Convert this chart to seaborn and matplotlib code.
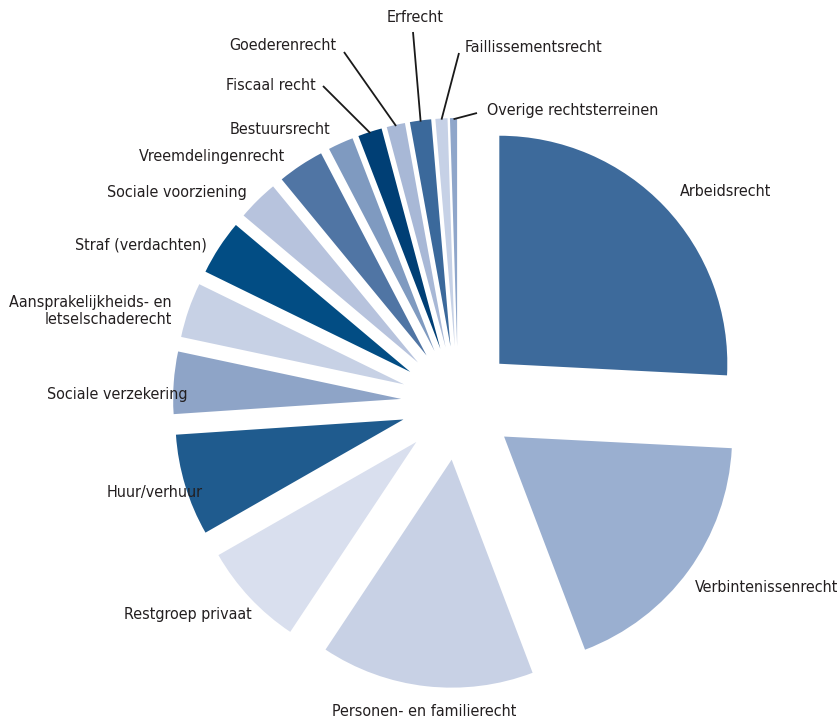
import numpy as np
import matplotlib
matplotlib.use("Agg")
import matplotlib.pyplot as plt
from matplotlib import font_manager as fm
import seaborn as sns

# Share of cases per legal area (%), clockwise from the top
categories = [
    "Arbeidsrecht", "Verbintenissenrecht", "Personen- en familierecht",
    "Restgroep privaat", "Huur/verhuur", "Sociale verzekering",
    "Aansprakelijkheids- en\nletselschaderecht", "Straf (verdachten)",
    "Sociale voorziening", "Vreemdelingenrecht", "Bestuursrecht",
    "Fiscaal recht", "Goederenrecht", "Erfrecht", "Faillissementsrecht",
    "Overige rechtsterreinen",
]
shares = [25.8, 18.4, 15.1, 7.4, 7.2, 4.4, 3.9, 3.9, 2.9, 3.3, 1.8, 1.7,
          1.3, 1.5, 0.85, 0.5]

colors = ["#3d6a9b", "#9aafd0", "#c8d1e5", "#d9dfee", "#1f5b8e", "#8ea4c7",
          "#c7d1e5", "#024d84", "#b7c3dd", "#5075a4", "#7f9ac0", "#003f75",
          "#a8b8d6", "#3b699b", "#c6d1e6", "#8fa6ca"]

sns.set_theme(style="white")
plt.rcParams["font.family"] = ["Roboto", "DejaVu Sans"]


def pick_label_font():
    """Prefer a narrow/condensed regular sans face if one is installed."""
    cands = []
    for f in fm.fontManager.ttflist:
        name = f.name.lower()
        fname = f.fname.lower()
        narrow = ("narrow" in name or "condensed" in name or "narrow" in fname
                  or "condensed" in fname or str(f.stretch).lower() in
                  ("condensed", "semi-condensed"))
        if not narrow or "bold" in fname or "italic" in fname or "oblique" in fname:
            continue
        if f.style != "normal" or f.weight not in (400, "normal", "regular"):
            continue
        rank = 0 if "liberation" in name else 1 if "dejavu" in name else 2
        cands.append((rank, f.fname))
    if cands:
        cands.sort()
        return fm.FontProperties(fname=cands[0][1])
    return fm.FontProperties(family=["Roboto", "DejaVu Sans"])


W, H, DPI = 838, 720, 100
R_PX = 228.0            # pie radius in pixels
CX, CY = 458.0, 403.0   # pie centre in pixels (from top-left)

fig = plt.figure(figsize=(W / DPI, H / DPI), dpi=DPI)
ax = fig.add_axes([0, 0, 1, 1])

EXPLODE = 0.25
wedges, _ = ax.pie(
    shares, colors=colors, startangle=90, counterclock=False,
    explode=[EXPLODE] * len(shares), radius=1.0,
    wedgeprops=dict(linewidth=0, antialiased=True),
)

ax.set_xlim(-CX / R_PX, (W - CX) / R_PX)
ax.set_ylim(-(H - CY) / R_PX, CY / R_PX)
ax.set_aspect("equal")
ax.axis("off")

# Size the label font so that "Arbeidsrecht" is about 92 px wide
font = pick_label_font()
probe = ax.text(0, 0, "Arbeidsrecht", fontproperties=font, fontsize=10)
renderer = fig.canvas.get_renderer()
w10 = probe.get_window_extent(renderer).width
probe.remove()
fs = 10 * 92.0 / w10
font.set_size(fs)


def px(x, y):
    """Pixel position (from top-left) to pie units."""
    return (x - CX) / R_PX, (CY - y) / R_PX


text_color = "#231f20"

# label anchor (pixels), horizontal alignment, leader line start (or None)
label_layout = [
    ((680, 192), "left", None),
    ((695, 587), "left", None),
    ((424, 711), "center", None),
    ((252, 614), "right", None),
    ((203, 493), "right", None),
    ((187, 395), "right", None),
    ((172, 311), "right", None),
    ((207, 245), "right", None),
    ((247, 193), "right", None),
    ((285, 157), "right", None),
    ((330, 130), "right", None),
    ((316, 86), "right", (323, 86)),
    ((336, 45), "right", (344, 52)),
    ((415, 18), "center", (413, 32)),
    ((465, 47), "left", (459, 53)),
    ((487, 111), "left", (477, 113)),
]

for w, label, (pos, ha, lead) in zip(wedges, categories, label_layout):
    tx, ty = px(*pos)
    ax.text(tx, ty, label, ha=ha, va="center", fontproperties=font,
            color=text_color, multialignment="right", linespacing=1.1)
    if lead is not None:
        mid = np.deg2rad((w.theta1 + w.theta2) / 2)
        cx, cy = w.center
        ex, ey = cx + 0.995 * np.cos(mid), cy + 0.995 * np.sin(mid)
        sx, sy = px(*lead)
        ax.plot([sx, ex], [sy, ey], color="#1a1a1a", lw=1.3,
                solid_capstyle="butt")

fig.savefig("out.png", dpi=DPI, facecolor="white")
